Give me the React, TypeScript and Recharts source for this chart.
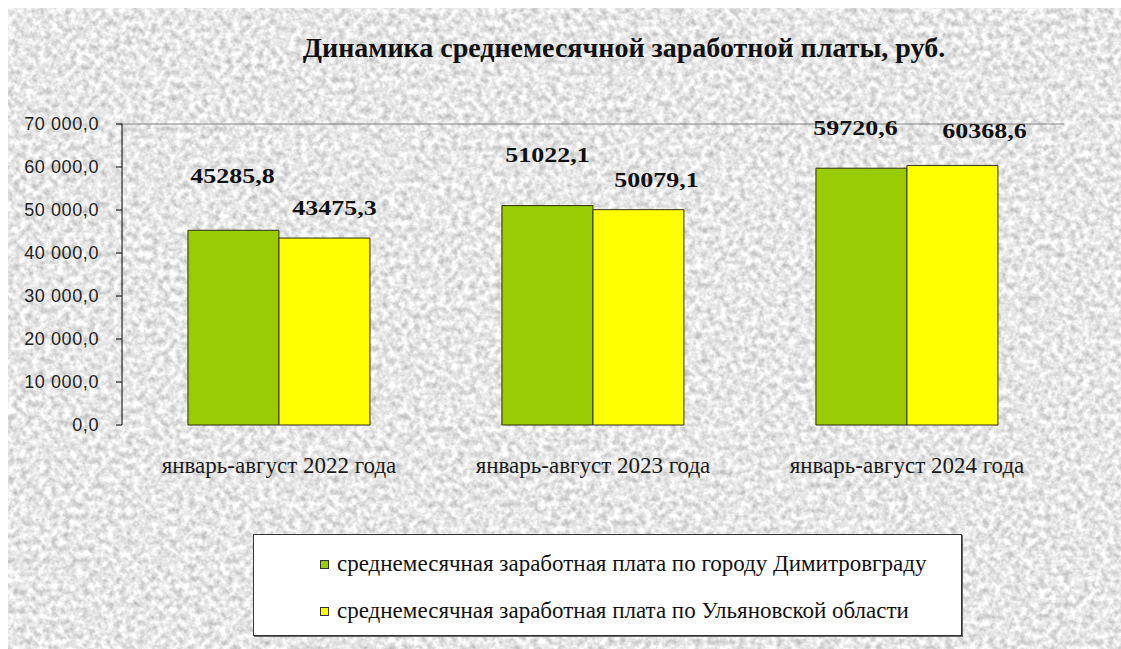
import React from 'react';
import { BarChart, Bar, XAxis, YAxis, Legend, LabelList, ReferenceLine } from 'recharts';

const periods = ['январь-август 2022 года', 'январь-август 2023 года', 'январь-август 2024 года'];
const cityWage = [45285.8, 51022.1, 59720.6];
const regionWage = [43475.3, 50079.1, 60368.6];
const yTicks = [0, 10000, 20000, 30000, 40000, 50000, 60000, 70000];
const boundaryTicks = [0, 1, 2, 3];
const seriesNames = [
  'среднемесячная заработная плата по городу Димитровграду',
  'среднемесячная заработная плата по Ульяновской области',
];
const chartTitle = 'Динамика среднемесячной заработной платы, руб.';

const data = periods.map((p, i) => ({ period: p, city: cityWage[i], region: regionWage[i] }));

// label offsets (dx, dy) relative to the top centre of each bar
const cityLabelOffsets = [[-1, -54], [0, -51], [-6, -40]];
const regionLabelOffsets = [[10, -30], [18, -30], [32, -34]];

const SERIF = "'Liberation Serif', 'Times New Roman', serif";
const SANS = "'Liberation Sans', Arial, sans-serif";

const fmtAxis = (v: number) => {
  const [int, dec] = Number(v).toFixed(1).split('.');
  return int.replace(/\B(?=(\d{3})+(?!\d))/g, ' ') + ',' + dec;
};
const fmtValue = (v: number) => Number(v).toFixed(1).replace('.', ',');

const makeLabel = (offsets: number[][]) => (props: any) => {
  const { x, y, width, value, index } = props;
  const [dx, dy] = offsets[index] || [0, -20];
  const cx = Number(x) + Number(width) / 2 + dx;
  const cy = Number(y) + dy;
  return (
    <text
      transform={`translate(${cx},${cy}) scale(1.3,1)`}
      textAnchor="middle"
      dominantBaseline="central"
      style={{ fontFamily: SERIF, fontWeight: 700, fontSize: 20 }}
      fill="#111"
    >
      {fmtValue(value)}
    </text>
  );
};

const LegendBox = (props: any) => {
  const payload = [...(props.payload || [])].sort(
    (a: any, b: any) => seriesNames.indexOf(a.value) - seriesNames.indexOf(b.value)
  );
  const rowsTop = [15, 62];
  return (
    <div
      style={{
        width: '100%',
        height: '100%',
        boxSizing: 'border-box',
        background: '#fff',
        border: '1px solid #333',
        boxShadow: '1px 1px 0 #666',
        position: 'relative',
      }}
    >
      {payload.map((e: any, i: number) => (
        <div
          key={i}
          style={{
            position: 'absolute',
            left: 66,
            top: rowsTop[i],
            height: 28,
            display: 'flex',
            alignItems: 'center',
            whiteSpace: 'nowrap',
          }}
        >
          <span
            style={{
              display: 'inline-block',
              width: 7,
              height: 7,
              background: e.color,
              border: '1px solid #333',
              marginRight: 8,
            }}
          />
          <span style={{ fontFamily: SERIF, fontSize: 23, color: '#111' }}>{e.value}</span>
        </div>
      ))}
    </div>
  );
};

export default function App() {
  const W = 1113;
  const H = 641;
  return (
    <div style={{ position: 'absolute', left: 8, top: 8, width: W, height: H, overflow: 'hidden' }}>
      <svg width={W} height={H} style={{ position: 'absolute', left: 0, top: 0 }}>
        <defs>
          <filter id="granite" x="0" y="0" width="100%" height="100%" colorInterpolationFilters="sRGB">
            <feTurbulence type="fractalNoise" baseFrequency="0.16" numOctaves={3} seed={7} />
            <feColorMatrix
              type="matrix"
              values="0.45 0 0 0 0.68  0.45 0 0 0 0.68  0.45 0 0 0 0.68  0 0 0 0 1"
            />
          </filter>
        </defs>
        <rect x={0} y={0} width={W} height={H} filter="url(#granite)" />
      </svg>
      <div
        style={{
          position: 'absolute',
          left: 116,
          width: 1000,
          top: 24,
          textAlign: 'center',
          fontFamily: SERIF,
          fontWeight: 'bold',
          fontSize: 28,
          lineHeight: '32px',
          color: '#111',
        }}
      >
        {chartTitle}
      </div>
      <div style={{ position: 'absolute', left: 0, top: 0 }}>
        <BarChart
          width={W}
          height={H}
          data={data}
          margin={{ top: 116, right: 57, left: 0, bottom: 164 }}
          barCategoryGap="21%"
          barGap={0}
        >
          <XAxis
            xAxisId="tk"
            type="number"
            domain={[0, 3]}
            ticks={boundaryTicks}
            allowDataOverflow
            interval={0}
            height={0}
            tickFormatter={() => ''}
            tickSize={8}
            axisLine={{ stroke: '#000' }}
            tickLine={{ stroke: '#000' }}
          />
          <XAxis
            xAxisId="tkIn"
            type="number"
            domain={[0, 3]}
            ticks={boundaryTicks}
            allowDataOverflow
            interval={0}
            height={0}
            mirror
            tickFormatter={() => ''}
            tickSize={7}
            axisLine={false}
            tickLine={{ stroke: '#000' }}
          />
          <XAxis
            xAxisId="cat"
            dataKey="period"
            height={60}
            interval={0}
            axisLine={false}
            tickLine={false}
            tickSize={0}
            tickMargin={32}
            tick={{ fill: '#1a1a1a', fontSize: 23, fontFamily: SERIF }}
          />
          <YAxis
            yAxisId="v"
            domain={[0, 70000]}
            ticks={yTicks}
            interval={0}
            width={114}
            tickFormatter={fmtAxis}
            tickSize={6}
            tickMargin={17}
            axisLine={{ stroke: '#000' }}
            tickLine={{ stroke: '#000' }}
            tick={{ fill: '#222', fontSize: 18, fontFamily: SANS, letterSpacing: 0.6 }}
          />
          <YAxis
            yAxisId="vIn"
            mirror
            domain={[0, 70000]}
            allowDataOverflow
            ticks={yTicks}
            interval={0}
            width={0}
            tickFormatter={() => ''}
            tickSize={6}
            axisLine={false}
            tickLine={{ stroke: '#000' }}
          />
          <YAxis
            yAxisId="r"
            orientation="right"
            domain={[0, 70000]}
            allowDataOverflow
            width={0}
            tick={false}
            tickLine={false}
            axisLine={{ stroke: '#808080' }}
          />
          <ReferenceLine xAxisId="cat" yAxisId="v" y={70000} stroke="#808080" />
          <Bar
            xAxisId="cat"
            yAxisId="v"
            dataKey="city"
            name={seriesNames[0]}
            fill="#99CC00"
            stroke="#2e2e10"
            strokeWidth={1}
            isAnimationActive={false}
          >
            <LabelList dataKey="city" content={makeLabel(cityLabelOffsets)} />
          </Bar>
          <Bar
            xAxisId="cat"
            yAxisId="v"
            dataKey="region"
            name={seriesNames[1]}
            fill="#FFFF00"
            stroke="#2e2e10"
            strokeWidth={1}
            isAnimationActive={false}
          >
            <LabelList dataKey="region" content={makeLabel(regionLabelOffsets)} />
          </Bar>
          <Legend
            layout="vertical"
            align="center"
            verticalAlign="middle"
            content={LegendBox}
            wrapperStyle={{ left: 245, top: 526, width: 709, height: 102 }}
          />
        </BarChart>
      </div>
    </div>
  );
}
